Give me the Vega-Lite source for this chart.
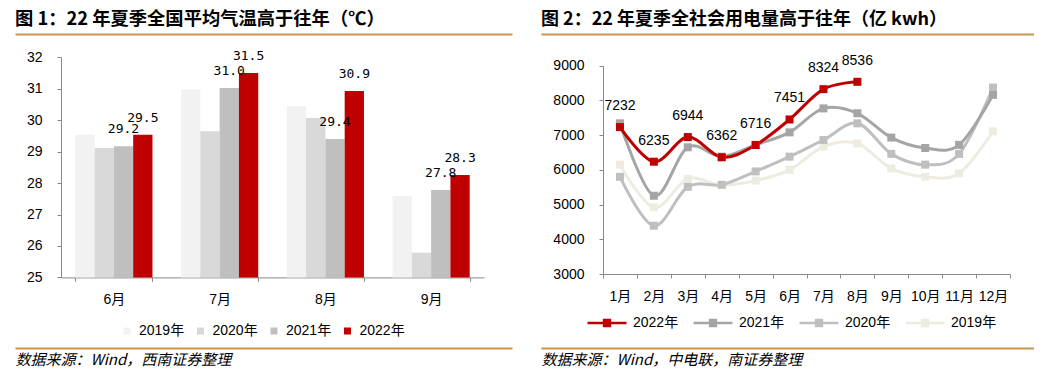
{
  "$schema": "https://vega.github.io/schema/vega-lite/v6.json",
  "background": "white",
  "padding": {"left": 15, "top": 9, "right": 0, "bottom": 0},
  "autosize": {"type": "pad"},
  "config": {
    "view": {"stroke": null},
    "font": "Liberation Sans, Noto Sans CJK SC",
    "axis": {"labelFont": "Liberation Sans, Noto Sans CJK SC", "titleFont": "Noto Sans CJK SC"},
    "legend": {"labelFont": "Liberation Sans, Noto Sans CJK SC"}
  },
  "resolve": {"scale": {"color": "independent", "x": "independent", "y": "independent"}, "legend": {"color": "independent"}},
  "spacing": 29,
  "hconcat": [
    {
      "width": 497,
      "height": 314,
      "title": {"text": "图 1：22 年夏季全国平均气温高于往年（℃）", "anchor": "start", "frame": "group", "font": "Noto Sans CJK SC", "fontSize": 18.3, "fontWeight": "bold", "color": "#000000", "offset": 5},
      "resolve": {"scale": {"x": "independent", "y": "independent"}, "axis": {"x": "independent", "y": "independent"}},
      "layer": [
        {
          "data": {"values": [
            {"month": "6月", "year": "2019年", "temp": 29.54},
            {"month": "6月", "year": "2020年", "temp": 29.12},
            {"month": "6月", "year": "2021年", "temp": 29.17},
            {"month": "6月", "year": "2022年", "temp": 29.54},
            {"month": "7月", "year": "2019年", "temp": 30.98},
            {"month": "7月", "year": "2020年", "temp": 29.65},
            {"month": "7月", "year": "2021年", "temp": 31.03},
            {"month": "7月", "year": "2022年", "temp": 31.5},
            {"month": "8月", "year": "2019年", "temp": 30.45},
            {"month": "8月", "year": "2020年", "temp": 30.07},
            {"month": "8月", "year": "2021年", "temp": 29.4},
            {"month": "8月", "year": "2022年", "temp": 30.93},
            {"month": "9月", "year": "2019年", "temp": 27.59},
            {"month": "9月", "year": "2020年", "temp": 25.79},
            {"month": "9月", "year": "2021年", "temp": 27.78},
            {"month": "9月", "year": "2022年", "temp": 28.26}
          ]},
          "encoding": {
            "x": {"field": "month", "type": "nominal", "sort": ["6月", "7月", "8月", "9月"],
              "scale": {"range": [46, 469], "paddingInner": 0.27, "paddingOuter": 0.135},
              "axis": {"orient": "bottom", "offset": -70.6, "title": null, "tickBand": "extent", "domainColor": "#898989", "tickColor": "#898989", "tickSize": 4, "labelFontSize": 14, "labelColor": "#000000", "labelPadding": 11, "labelAngle": 0, "grid": false, "labelOverlap": false}},
            "y": {"field": "temp", "type": "quantitative",
              "scale": {"domain": [25, 32], "nice": false, "zero": false, "range": [243.4, 23.4]},
              "axis": {"orient": "left", "offset": -46, "title": null, "values": [25, 26, 27, 28, 29, 30, 31, 32], "domainColor": "#898989", "tickColor": "#898989", "tickSize": 4, "labelFontSize": 14, "labelColor": "#000000", "labelPadding": 15, "grid": false}},
            "xOffset": {"field": "year", "type": "nominal", "sort": ["2019年", "2020年", "2021年", "2022年"], "scale": {"paddingInner": 0, "paddingOuter": 0}}
          },
          "layer": [
            {
              "mark": {"type": "bar"},
              "encoding": {
                "y2": {"datum": 25},
                "color": {"field": "year", "type": "nominal", "sort": ["2019年", "2020年", "2021年", "2022年"],
                  "scale": {"domain": ["2019年", "2020年", "2021年", "2022年"], "range": ["#F2F2F2", "#D9D9D9", "#BFBFBF", "#C00000"]},
                  "legend": {"orient": "none", "legendX": 105, "legendY": 290, "direction": "horizontal", "columns": 4, "title": null, "symbolType": "square", "symbolSize": 49, "symbolStrokeWidth": 0, "labelFontSize": 14, "labelColor": "#000000", "labelOffset": 5, "columnPadding": 8.5, "padding": 0}}
              }
            },
            {
              "transform": [{"filter": "datum.year == '2021年' || datum.year == '2022年'"}],
              "mark": {"type": "text", "dy": -17, "baseline": "middle", "font": "DejaVu Sans Mono", "fontSize": 13, "color": "#000000"},
              "encoding": {"text": {"field": "temp", "type": "quantitative", "format": ".1f"}}
            }
          ]
        },
        {
          "data": {"values": [{"d": 0}, {"d": 1}]},
          "mark": {"type": "text", "text": ""},
          "encoding": {
            "x": {"field": "d", "type": "quantitative", "scale": {"domain": [0, 1], "nice": false, "zero": false},
              "axis": {"orient": "top", "title": null, "labels": false, "ticks": false, "grid": false, "domainColor": "#C8964A", "domainWidth": 2}}
          }
        },
        {
          "data": {"values": [{"d": 0}, {"d": 1}]},
          "mark": {"type": "text", "text": ""},
          "encoding": {
            "x": {"field": "d", "type": "quantitative", "scale": {"domain": [0, 1], "nice": false, "zero": false},
              "axis": {"orient": "bottom", "title": "数据来源：Wind，西南证券整理", "titleAnchor": "start", "titleAlign": "left", "titleFont": "Noto Sans CJK SC", "titleFontStyle": "italic", "titleFontWeight": "normal", "titleFontSize": 15, "titleColor": "#000000", "titlePadding": 4, "labels": false, "ticks": false, "grid": false, "domainColor": "#C8964A", "domainWidth": 2}}
          }
        }
      ]
    },
    {
      "width": 493,
      "height": 314,
      "title": {"text": "图 2：22 年夏季全社会用电量高于往年（亿 kwh）", "anchor": "start", "frame": "group", "font": "Noto Sans CJK SC", "fontSize": 18, "fontWeight": "bold", "color": "#000000", "offset": 5},
      "resolve": {"scale": {"x": "independent", "y": "independent"}, "axis": {"x": "independent", "y": "independent"}},
      "layer": [
        {
          "data": {"values": [
            {"month": "1月", "year": "2019年", "kwh": 6150},
            {"month": "2月", "year": "2019年", "kwh": 4920},
            {"month": "3月", "year": "2019年", "kwh": 5740},
            {"month": "4月", "year": "2019年", "kwh": 5560},
            {"month": "5月", "year": "2019年", "kwh": 5690},
            {"month": "6月", "year": "2019年", "kwh": 6000},
            {"month": "7月", "year": "2019年", "kwh": 6670},
            {"month": "8月", "year": "2019年", "kwh": 6760},
            {"month": "9月", "year": "2019年", "kwh": 6040},
            {"month": "10月", "year": "2019年", "kwh": 5800},
            {"month": "11月", "year": "2019年", "kwh": 5900},
            {"month": "12月", "year": "2019年", "kwh": 7110},
            {"month": "1月", "year": "2020年", "kwh": 5800},
            {"month": "2月", "year": "2020年", "kwh": 4390},
            {"month": "3月", "year": "2020年", "kwh": 5510},
            {"month": "4月", "year": "2020年", "kwh": 5570},
            {"month": "5月", "year": "2020年", "kwh": 5955},
            {"month": "6月", "year": "2020年", "kwh": 6380},
            {"month": "7月", "year": "2020年", "kwh": 6860},
            {"month": "8月", "year": "2020年", "kwh": 7340},
            {"month": "9月", "year": "2020年", "kwh": 6460},
            {"month": "10月", "year": "2020年", "kwh": 6150},
            {"month": "11月", "year": "2020年", "kwh": 6460},
            {"month": "12月", "year": "2020年", "kwh": 8370},
            {"month": "1月", "year": "2021年", "kwh": 7340},
            {"month": "2月", "year": "2021年", "kwh": 5255},
            {"month": "3月", "year": "2021年", "kwh": 6650},
            {"month": "4月", "year": "2021年", "kwh": 6380},
            {"month": "5月", "year": "2021年", "kwh": 6720},
            {"month": "6月", "year": "2021年", "kwh": 7080},
            {"month": "7月", "year": "2021年", "kwh": 7770},
            {"month": "8月", "year": "2021年", "kwh": 7630},
            {"month": "9月", "year": "2021年", "kwh": 6930},
            {"month": "10月", "year": "2021年", "kwh": 6630},
            {"month": "11月", "year": "2021年", "kwh": 6720},
            {"month": "12月", "year": "2021年", "kwh": 8160},
            {"month": "1月", "year": "2022年", "kwh": 7232},
            {"month": "2月", "year": "2022年", "kwh": 6235},
            {"month": "3月", "year": "2022年", "kwh": 6944},
            {"month": "4月", "year": "2022年", "kwh": 6362},
            {"month": "5月", "year": "2022年", "kwh": 6716},
            {"month": "6月", "year": "2022年", "kwh": 7451},
            {"month": "7月", "year": "2022年", "kwh": 8324},
            {"month": "8月", "year": "2022年", "kwh": 8536}
          ]},
          "encoding": {
            "x": {"field": "month", "type": "ordinal", "sort": ["1月", "2月", "3月", "4月", "5月", "6月", "7月", "8月", "9月", "10月", "11月", "12月"],
              "scale": {"type": "band", "range": [62, 469], "paddingInner": 0, "paddingOuter": 0},
              "axis": {"orient": "bottom", "offset": -74, "title": null, "tickBand": "extent", "domainColor": "#898989", "tickColor": "#898989", "tickSize": 4, "labelFontSize": 14, "labelColor": "#000000", "labelPadding": 11, "labelAngle": 0, "grid": false, "labelOverlap": false}},
            "y": {"field": "kwh", "type": "quantitative",
              "scale": {"domain": [3000, 9000], "nice": false, "zero": false, "range": [240, 31.7]},
              "axis": {"orient": "left", "offset": -62, "title": null, "format": "d", "values": [3000, 4000, 5000, 6000, 7000, 8000, 9000], "domainColor": "#898989", "tickColor": "#898989", "tickSize": 4, "labelFontSize": 14, "labelColor": "#000000", "labelPadding": 15, "grid": false}}
          },
          "layer": [
            {
              "mark": {"type": "line", "interpolate": "cardinal", "strokeWidth": 3},
              "encoding": {
                "color": {"field": "year", "type": "nominal",
                  "scale": {"domain": ["2022年", "2021年", "2020年", "2019年"], "range": ["#C00000", "#A5A5A5", "#BFBFBF", "#EEECE1"]},
                  "legend": {"orient": "none", "legendX": 45, "legendY": 268, "direction": "horizontal", "columns": 4, "title": null,
                    "symbolType": "M-1,0H1M-0.15,-0.15H0.15V0.15H-0.15Z", "symbolSize": 1521, "symbolStrokeWidth": 2.5,
                    "labelFontSize": 14, "labelColor": "#000000", "labelOffset": 5, "columnPadding": 9, "padding": 0,
                    "encode": {"symbols": {"update": {
                      "fill": {"signal": "datum.value === '2022年' ? '#C00000' : datum.value === '2021年' ? '#A5A5A5' : datum.value === '2020年' ? '#BFBFBF' : '#EEECE1'"},
                      "stroke": {"signal": "datum.value === '2022年' ? '#C00000' : datum.value === '2021年' ? '#A5A5A5' : datum.value === '2020年' ? '#BFBFBF' : '#EEECE1'"}
                    }}}}
                }
              }
            },
            {
              "mark": {"type": "point", "shape": "square", "filled": true, "size": 64, "opacity": 1},
              "encoding": {
                "color": {"field": "year", "type": "nominal"}
              }
            },
            {
              "transform": [{"filter": "datum.year == '2022年'"}],
              "mark": {"type": "text", "dy": -21, "baseline": "middle", "fontSize": 14, "color": "#000000"},
              "encoding": {"text": {"field": "kwh", "type": "quantitative", "format": "d"}}
            }
          ]
        },
        {
          "data": {"values": [{"d": 0}, {"d": 1}]},
          "mark": {"type": "text", "text": ""},
          "encoding": {
            "x": {"field": "d", "type": "quantitative", "scale": {"domain": [0, 1], "nice": false, "zero": false},
              "axis": {"orient": "top", "title": null, "labels": false, "ticks": false, "grid": false, "domainColor": "#C8964A", "domainWidth": 2}}
          }
        },
        {
          "data": {"values": [{"d": 0}, {"d": 1}]},
          "mark": {"type": "text", "text": ""},
          "encoding": {
            "x": {"field": "d", "type": "quantitative", "scale": {"domain": [0, 1], "nice": false, "zero": false},
              "axis": {"orient": "bottom", "title": "数据来源：Wind，中电联，南证券整理", "titleAnchor": "start", "titleAlign": "left", "titleFont": "Noto Sans CJK SC", "titleFontStyle": "italic", "titleFontWeight": "normal", "titleFontSize": 15, "titleColor": "#000000", "titlePadding": 4, "labels": false, "ticks": false, "grid": false, "domainColor": "#C8964A", "domainWidth": 2}}
          }
        }
      ]
    }
  ]
}
